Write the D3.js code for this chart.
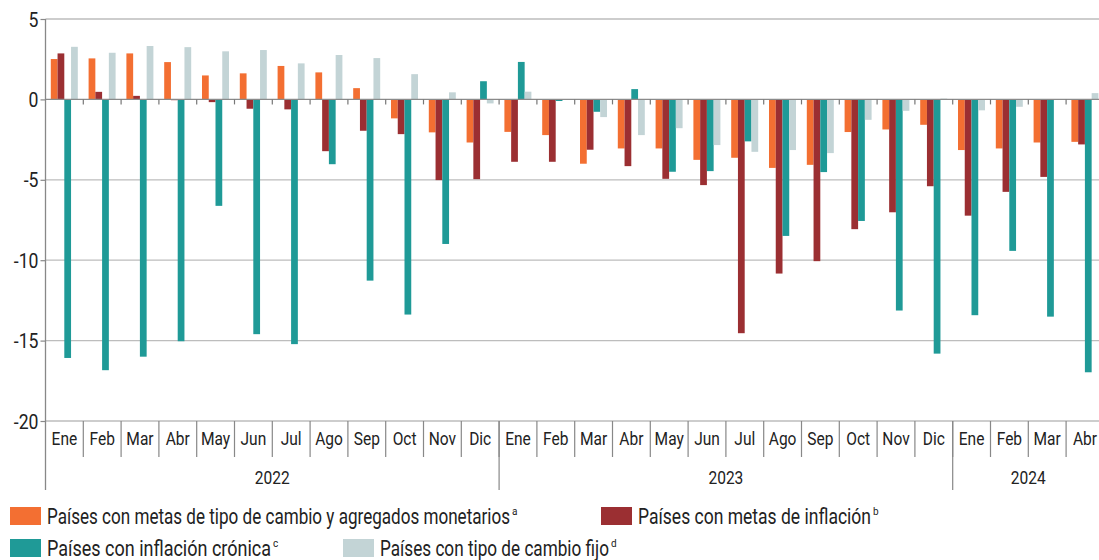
<!DOCTYPE html>
<html>
<head>
<meta charset="utf-8">
<script src="https://cdn.jsdelivr.net/npm/d3@7"></script>
<style>
  html, body { margin: 0; padding: 0; background: #fff; }
  svg { display: block; }
  text { font-family: Roboto, "Noto Sans", sans-serif; fill: #222; }
</style>
</head>
<body>
<svg id="chart" width="1099" height="560"></svg>
<script>
// Monthly categories (Jan 2022 – Apr 2024)
const monthLabels = [
  "Ene","Feb","Mar","Abr","May","Jun","Jul","Ago","Sep","Oct","Nov","Dic",
  "Ene","Feb","Mar","Abr","May","Jun","Jul","Ago","Sep","Oct","Nov","Dic",
  "Ene","Feb","Mar","Abr"
];
const yearLabels = ["2022", "2023", "2024"];
const yearMonthCounts = [12, 12, 4];

// Series values, percentage points
const metasTipoCambio = [
  2.51, 2.55, 2.86, 2.32, 1.49, 1.62, 2.08, 1.68, 0.70, -1.18, -2.05, -2.68,
  -2.02, -2.22, -4.00, -3.05, -3.05, -3.76, -3.63, -4.26, -4.07, -2.03, -1.87, -1.58,
  -3.15, -3.05, -2.68, -2.64
];
const metasInflacion = [
  2.86, 0.47, 0.22, -0.05, -0.17, -0.58, -0.62, -3.22, -1.95, -2.16, -5.02, -4.96,
  -3.88, -3.88, -3.13, -4.15, -4.94, -5.33, -14.54, -10.83, -10.06, -8.07, -7.02, -5.40,
  -7.23, -5.75, -4.82, -2.80
];
const inflacionCronica = [
  -16.08, -16.84, -16.00, -15.04, -6.62, -14.60, -15.22, -4.03, -11.27, -13.38, -8.99, 1.13,
  2.33, -0.10, -0.77, 0.64, -4.50, -4.46, -2.61, -8.49, -4.52, -7.56, -13.13, -15.81,
  -13.42, -9.42, -13.51, -16.97
];
const tipoCambioFijo = [
  3.27, 2.90, 3.32, 3.25, 2.99, 3.07, 2.24, 2.76, 2.57, 1.57, 0.44, -0.25,
  0.48, 0.00, -1.10, -2.22, -1.79, -2.84, -3.26, -3.15, -3.34, -1.27, -0.71, 0.05,
  -0.68, -0.46, 0.00, 0.39
];

const yTicks = [5, 0, -5, -10, -15, -20];

const seriesNames = [
  "Países con metas de tipo de cambio y agregados monetarios",
  "Países con metas de inflación",
  "Países con inflación crónica",
  "Países con tipo de cambio fijo"
];
const seriesNotes = ["a", "b", "c", "d"];
const seriesColors = ["#F36F32", "#9B2F32", "#1F9A97", "#C3D4D6"];
const seriesValues = [metasTipoCambio, metasInflacion, inflacionCronica, tipoCambioFijo];

const svg = d3.select("#chart");

const plotLeft = 45.5, plotTop = 19, plotBottom = 421;
const bandW = 37.8;
const plotRight = plotLeft + bandW * monthLabels.length;
const squeeze = 0.84; // narrow lettering

const idx = monthLabels.map((_, i) => i);
const x = d3.scaleBand().domain(idx).range([plotLeft, plotRight]).padding(0);
const xs = d3.scaleBand().domain(d3.range(4)).range([5.3, 5.3 + 27]).padding(0);
const y = d3.scaleLinear().domain([-20, 5]).range([plotBottom, plotTop]);

// horizontal gridlines
svg.append("g")
  .selectAll("line")
  .data(yTicks.filter(t => t !== 0))
  .join("line")
  .attr("x1", plotLeft).attr("x2", 1099)
  .attr("y1", d => y(d)).attr("y2", d => y(d))
  .attr("stroke", "#BDBDBD").attr("stroke-width", 1.3);

// y axis
const yAxis = d3.axisLeft(y).tickValues(yTicks).tickSize(5).tickPadding(0)
  .tickFormat(d => String(d));
const gy = svg.append("g").attr("transform", `translate(${plotLeft},0)`).call(yAxis);
gy.select(".domain").remove();
gy.selectAll(".tick line").attr("stroke", "#888").attr("stroke-width", 1.2);
gy.selectAll(".tick text")
  .attr("x", null).attr("dy", null)
  .attr("transform", `translate(-7,7) scale(${squeeze},1)`)
  .attr("font-size", 21)
  .attr("fill", "#222")
  .style("font-family", "Roboto, 'Noto Sans', sans-serif");

// bars
const groups = svg.append("g")
  .selectAll("g")
  .data(idx)
  .join("g")
  .attr("transform", i => `translate(${x(i)},0)`);

groups.selectAll("rect")
  .data(i => seriesValues.map((vals, s) => ({ s, v: vals[i] })))
  .join("rect")
  .attr("x", d => xs(d.s))
  .attr("width", xs.bandwidth())
  .attr("y", d => y(Math.max(0, d.v)))
  .attr("height", d => Math.abs(y(d.v) - y(0)))
  .attr("fill", d => seriesColors[d.s]);

// zero line with small ticks at the month boundaries
svg.append("line")
  .attr("x1", plotLeft).attr("x2", 1099)
  .attr("y1", y(0)).attr("y2", y(0))
  .attr("stroke", "#8A8A8A").attr("stroke-width", 1.3);
svg.append("g")
  .selectAll("line")
  .data(idx.slice(1))
  .join("line")
  .attr("x1", i => x(i)).attr("x2", i => x(i))
  .attr("y1", y(0)).attr("y2", y(0) + 5)
  .attr("stroke", "#777").attr("stroke-width", 1.2);

// left axis line
svg.append("line")
  .attr("x1", plotLeft).attr("x2", plotLeft)
  .attr("y1", plotTop).attr("y2", 490)
  .attr("stroke", "#888").attr("stroke-width", 1.3);

// month separators and labels
svg.append("g")
  .selectAll("line")
  .data(idx.slice(1))
  .join("line")
  .attr("x1", i => x(i)).attr("x2", i => x(i))
  .attr("y1", plotBottom).attr("y2", 457)
  .attr("stroke", "#888").attr("stroke-width", 1.2);

svg.append("g")
  .selectAll("text")
  .data(idx)
  .join("text")
  .attr("transform", i => `translate(${x(i) + x.bandwidth() / 2},445) scale(${squeeze},1)`)
  .attr("text-anchor", "middle")
  .attr("font-size", 18.5)
  .text(i => monthLabels[i]);

// year separators and labels
let start = 0;
const yearSpans = yearLabels.map((lab, k) => {
  const span = { lab, s: start, e: start + yearMonthCounts[k] };
  start += yearMonthCounts[k];
  return span;
});
svg.append("g")
  .selectAll("line")
  .data(yearSpans.slice(1))
  .join("line")
  .attr("x1", d => x(d.s)).attr("x2", d => x(d.s))
  .attr("y1", plotBottom).attr("y2", 490)
  .attr("stroke", "#888").attr("stroke-width", 1.2);
svg.append("g")
  .selectAll("text")
  .data(yearSpans)
  .join("text")
  .attr("transform", d => {
    const cx = (x(d.s) + (d.e < monthLabels.length ? x(d.e) : plotRight)) / 2;
    return `translate(${cx},484) scale(${squeeze},1)`;
  })
  .attr("text-anchor", "middle")
  .attr("font-size", 18.5)
  .text(d => d.lab);

// legend
const legendPos = [
  { x: 10, y: 507 }, { x: 601, y: 507 },
  { x: 10, y: 539 }, { x: 343, y: 539 }
];
const legendTextW = [463, 233, 224, 229];
const lg = svg.append("g")
  .selectAll("g")
  .data(d3.range(4))
  .join("g")
  .attr("transform", s => `translate(${legendPos[s].x},${legendPos[s].y})`);
lg.append("rect")
  .attr("width", 31).attr("height", 18)
  .attr("fill", s => seriesColors[s]);
lg.append("text")
  .attr("x", 37).attr("y", 17)
  .attr("font-size", 22.5)
  .attr("textLength", s => legendTextW[s])
  .attr("lengthAdjust", "spacingAndGlyphs")
  .text(s => seriesNames[s]);
lg.append("text")
  .attr("x", s => 37 + legendTextW[s] + 2).attr("y", 8)
  .attr("font-size", 10)
  .text(s => seriesNotes[s]);
</script>
</body>
</html>
